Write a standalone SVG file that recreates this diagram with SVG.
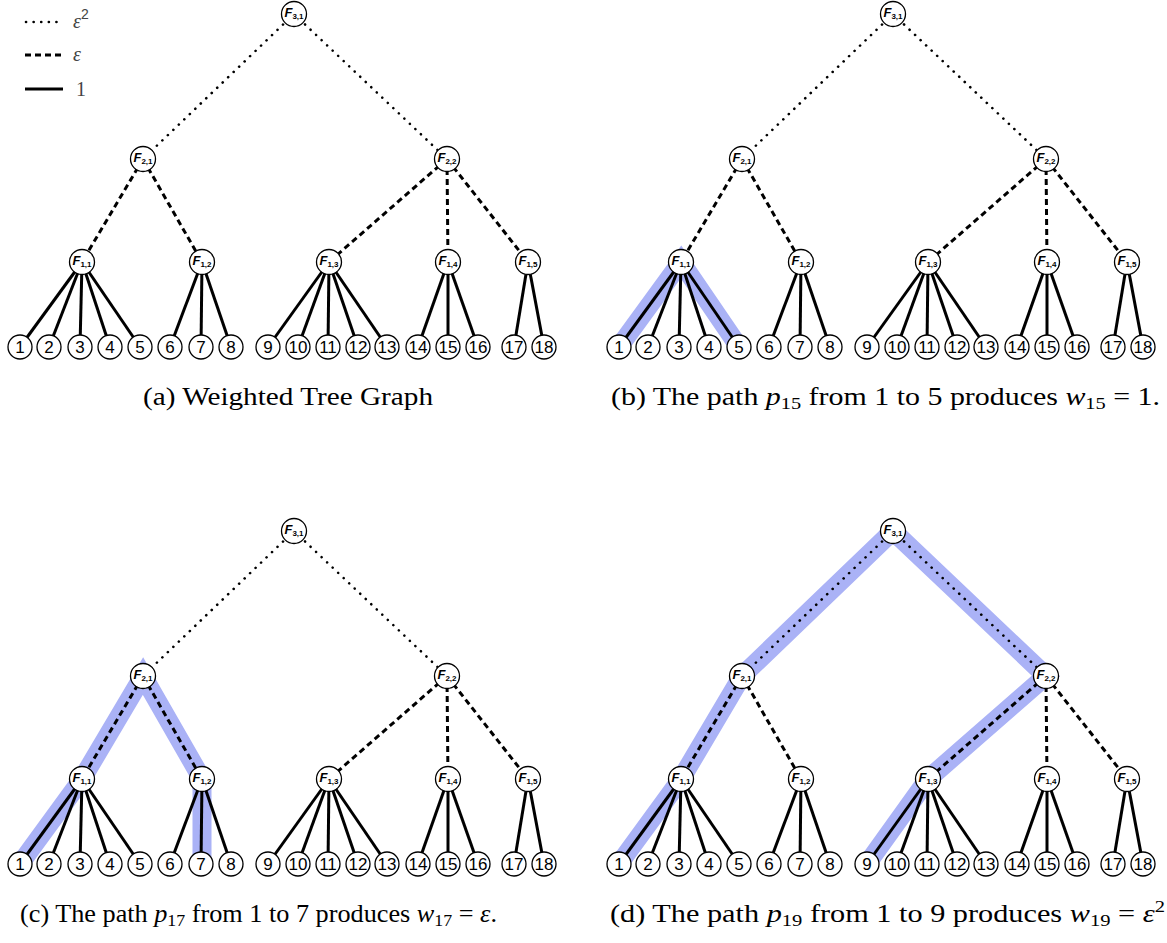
<svg xmlns="http://www.w3.org/2000/svg" width="1167" height="943" viewBox="0 0 1167 943">
<style>
.bg{fill:#fff}
.hl{fill:none;stroke:#aab2f6;stroke-width:19;stroke-linejoin:miter;stroke-linecap:butt}
.dot{stroke:#000;stroke-width:2.6;stroke-dasharray:0.1 7.5;stroke-linecap:round;fill:none}
.dash{stroke:#000;stroke-width:3;stroke-dasharray:6 4;fill:none}
.sol{stroke:#000;stroke-width:3;fill:none}
.node circle{fill:#fff;stroke:#000;stroke-width:1.3}
.fl{font-family:"Liberation Sans",Arial,sans-serif;font-style:italic;font-weight:bold;font-size:13px;text-anchor:middle}
.sub{font-size:8px;font-style:normal;font-weight:bold}
.lt{font-family:"Liberation Sans",Arial,sans-serif;font-size:17px;text-anchor:middle}
.cap{font-family:"Liberation Serif","Times New Roman",serif;font-size:25px}
.it{font-style:italic}
.cs{font-size:17px}
.leg{font-family:"Liberation Serif",serif;font-size:20px;fill:#444}
</style>
<rect class="bg" width="1167" height="943"/>
<g id="legend">
<line class="dot" x1="26" y1="22" x2="62" y2="22"/>
<text class="leg" x="73" y="28"><tspan class="it">ε</tspan><tspan font-size="14" dy="-9" font-family="Liberation Sans">2</tspan></text>
<line class="dash" x1="25" y1="55" x2="63" y2="55"/>
<text class="leg it" x="73" y="61">ε</text>
<line class="sol" x1="25" y1="89" x2="63" y2="89"/>
<text class="leg" x="76" y="96" font-family="Liberation Sans" font-size="19">1</text>
</g>

<!-- PANEL A -->
<g id="panel-a">
<g id="a-connectors">
<line class="dot" x1="294" y1="14" x2="143" y2="159"/>
<line class="dot" x1="294" y1="14" x2="447" y2="159"/>
<line class="dash" x1="143" y1="159" x2="82" y2="262"/>
<line class="dash" x1="143" y1="159" x2="202" y2="262"/>
<line class="dash" x1="447" y1="159" x2="329" y2="262"/>
<line class="dash" x1="447" y1="159" x2="448" y2="262"/>
<line class="dash" x1="447" y1="159" x2="528" y2="262"/>
<line class="sol" x1="82" y1="262" x2="20" y2="347"/>
<line class="sol" x1="82" y1="262" x2="49" y2="347"/>
<line class="sol" x1="82" y1="262" x2="80" y2="347"/>
<line class="sol" x1="82" y1="262" x2="110" y2="347"/>
<line class="sol" x1="82" y1="262" x2="140" y2="347"/>
<line class="sol" x1="202" y1="262" x2="170" y2="347"/>
<line class="sol" x1="202" y1="262" x2="201" y2="347"/>
<line class="sol" x1="202" y1="262" x2="231" y2="347"/>
<line class="sol" x1="329" y1="262" x2="268" y2="347"/>
<line class="sol" x1="329" y1="262" x2="298" y2="347"/>
<line class="sol" x1="329" y1="262" x2="328" y2="347"/>
<line class="sol" x1="329" y1="262" x2="358" y2="347"/>
<line class="sol" x1="329" y1="262" x2="387" y2="347"/>
<line class="sol" x1="448" y1="262" x2="418" y2="347"/>
<line class="sol" x1="448" y1="262" x2="448" y2="347"/>
<line class="sol" x1="448" y1="262" x2="478" y2="347"/>
<line class="sol" x1="528" y1="262" x2="514" y2="347"/>
<line class="sol" x1="528" y1="262" x2="544" y2="347"/>
</g>
<g id="a-F31" class="node"><circle cx="294" cy="14" r="12.5"/><text class="fl" x="294" y="17">F<tspan class="sub" dy="2">3,1</tspan></text></g>
<g id="a-F21" class="node"><circle cx="143" cy="159" r="12.5"/><text class="fl" x="143" y="162">F<tspan class="sub" dy="2">2,1</tspan></text></g>
<g id="a-F22" class="node"><circle cx="447" cy="159" r="12.5"/><text class="fl" x="447" y="162">F<tspan class="sub" dy="2">2,2</tspan></text></g>
<g id="a-F11" class="node"><circle cx="82" cy="262" r="12.5"/><text class="fl" x="82" y="265">F<tspan class="sub" dy="2">1,1</tspan></text></g>
<g id="a-F12" class="node"><circle cx="202" cy="262" r="12.5"/><text class="fl" x="202" y="265">F<tspan class="sub" dy="2">1,2</tspan></text></g>
<g id="a-F13" class="node"><circle cx="329" cy="262" r="12.5"/><text class="fl" x="329" y="265">F<tspan class="sub" dy="2">1,3</tspan></text></g>
<g id="a-F14" class="node"><circle cx="448" cy="262" r="12.5"/><text class="fl" x="448" y="265">F<tspan class="sub" dy="2">1,4</tspan></text></g>
<g id="a-F15" class="node"><circle cx="528" cy="262" r="12.5"/><text class="fl" x="528" y="265">F<tspan class="sub" dy="2">1,5</tspan></text></g>
<g id="a-L1" class="node"><circle cx="20" cy="347" r="12"/><text class="lt" x="20" y="353">1</text></g>
<g id="a-L2" class="node"><circle cx="49" cy="347" r="12"/><text class="lt" x="49" y="353">2</text></g>
<g id="a-L3" class="node"><circle cx="80" cy="347" r="12"/><text class="lt" x="80" y="353">3</text></g>
<g id="a-L4" class="node"><circle cx="110" cy="347" r="12"/><text class="lt" x="110" y="353">4</text></g>
<g id="a-L5" class="node"><circle cx="140" cy="347" r="12"/><text class="lt" x="140" y="353">5</text></g>
<g id="a-L6" class="node"><circle cx="170" cy="347" r="12"/><text class="lt" x="170" y="353">6</text></g>
<g id="a-L7" class="node"><circle cx="201" cy="347" r="12"/><text class="lt" x="201" y="353">7</text></g>
<g id="a-L8" class="node"><circle cx="231" cy="347" r="12"/><text class="lt" x="231" y="353">8</text></g>
<g id="a-L9" class="node"><circle cx="268" cy="347" r="12"/><text class="lt" x="268" y="353">9</text></g>
<g id="a-L10" class="node"><circle cx="298" cy="347" r="12"/><text class="lt" x="298" y="353">10</text></g>
<g id="a-L11" class="node"><circle cx="328" cy="347" r="12"/><text class="lt" x="328" y="353">11</text></g>
<g id="a-L12" class="node"><circle cx="358" cy="347" r="12"/><text class="lt" x="358" y="353">12</text></g>
<g id="a-L13" class="node"><circle cx="387" cy="347" r="12"/><text class="lt" x="387" y="353">13</text></g>
<g id="a-L14" class="node"><circle cx="418" cy="347" r="12"/><text class="lt" x="418" y="353">14</text></g>
<g id="a-L15" class="node"><circle cx="448" cy="347" r="12"/><text class="lt" x="448" y="353">15</text></g>
<g id="a-L16" class="node"><circle cx="478" cy="347" r="12"/><text class="lt" x="478" y="353">16</text></g>
<g id="a-L17" class="node"><circle cx="514" cy="347" r="12"/><text class="lt" x="514" y="353">17</text></g>
<g id="a-L18" class="node"><circle cx="544" cy="347" r="12"/><text class="lt" x="544" y="353">18</text></g>
<text id="a-caption" class="cap" x="143" y="405" textLength="290" lengthAdjust="spacingAndGlyphs">(a) Weighted Tree Graph</text>
</g>

<!-- PANEL B -->
<g id="panel-b" transform="translate(599,0)">
<g id="b-highlight"><polyline class="hl" points="20,347 82,262 140,347"/></g>
<g id="b-connectors">
<line class="dot" x1="294" y1="14" x2="143" y2="159"/>
<line class="dot" x1="294" y1="14" x2="447" y2="159"/>
<line class="dash" x1="143" y1="159" x2="82" y2="262"/>
<line class="dash" x1="143" y1="159" x2="202" y2="262"/>
<line class="dash" x1="447" y1="159" x2="329" y2="262"/>
<line class="dash" x1="447" y1="159" x2="448" y2="262"/>
<line class="dash" x1="447" y1="159" x2="528" y2="262"/>
<line class="sol" x1="82" y1="262" x2="20" y2="347"/>
<line class="sol" x1="82" y1="262" x2="49" y2="347"/>
<line class="sol" x1="82" y1="262" x2="80" y2="347"/>
<line class="sol" x1="82" y1="262" x2="110" y2="347"/>
<line class="sol" x1="82" y1="262" x2="140" y2="347"/>
<line class="sol" x1="202" y1="262" x2="170" y2="347"/>
<line class="sol" x1="202" y1="262" x2="201" y2="347"/>
<line class="sol" x1="202" y1="262" x2="231" y2="347"/>
<line class="sol" x1="329" y1="262" x2="268" y2="347"/>
<line class="sol" x1="329" y1="262" x2="298" y2="347"/>
<line class="sol" x1="329" y1="262" x2="328" y2="347"/>
<line class="sol" x1="329" y1="262" x2="358" y2="347"/>
<line class="sol" x1="329" y1="262" x2="387" y2="347"/>
<line class="sol" x1="448" y1="262" x2="418" y2="347"/>
<line class="sol" x1="448" y1="262" x2="448" y2="347"/>
<line class="sol" x1="448" y1="262" x2="478" y2="347"/>
<line class="sol" x1="528" y1="262" x2="514" y2="347"/>
<line class="sol" x1="528" y1="262" x2="544" y2="347"/>
</g>
<g id="b-F31" class="node"><circle cx="294" cy="14" r="12.5"/><text class="fl" x="294" y="17">F<tspan class="sub" dy="2">3,1</tspan></text></g>
<g id="b-F21" class="node"><circle cx="143" cy="159" r="12.5"/><text class="fl" x="143" y="162">F<tspan class="sub" dy="2">2,1</tspan></text></g>
<g id="b-F22" class="node"><circle cx="447" cy="159" r="12.5"/><text class="fl" x="447" y="162">F<tspan class="sub" dy="2">2,2</tspan></text></g>
<g id="b-F11" class="node"><circle cx="82" cy="262" r="12.5"/><text class="fl" x="82" y="265">F<tspan class="sub" dy="2">1,1</tspan></text></g>
<g id="b-F12" class="node"><circle cx="202" cy="262" r="12.5"/><text class="fl" x="202" y="265">F<tspan class="sub" dy="2">1,2</tspan></text></g>
<g id="b-F13" class="node"><circle cx="329" cy="262" r="12.5"/><text class="fl" x="329" y="265">F<tspan class="sub" dy="2">1,3</tspan></text></g>
<g id="b-F14" class="node"><circle cx="448" cy="262" r="12.5"/><text class="fl" x="448" y="265">F<tspan class="sub" dy="2">1,4</tspan></text></g>
<g id="b-F15" class="node"><circle cx="528" cy="262" r="12.5"/><text class="fl" x="528" y="265">F<tspan class="sub" dy="2">1,5</tspan></text></g>
<g id="b-L1" class="node"><circle cx="20" cy="347" r="12"/><text class="lt" x="20" y="353">1</text></g>
<g id="b-L2" class="node"><circle cx="49" cy="347" r="12"/><text class="lt" x="49" y="353">2</text></g>
<g id="b-L3" class="node"><circle cx="80" cy="347" r="12"/><text class="lt" x="80" y="353">3</text></g>
<g id="b-L4" class="node"><circle cx="110" cy="347" r="12"/><text class="lt" x="110" y="353">4</text></g>
<g id="b-L5" class="node"><circle cx="140" cy="347" r="12"/><text class="lt" x="140" y="353">5</text></g>
<g id="b-L6" class="node"><circle cx="170" cy="347" r="12"/><text class="lt" x="170" y="353">6</text></g>
<g id="b-L7" class="node"><circle cx="201" cy="347" r="12"/><text class="lt" x="201" y="353">7</text></g>
<g id="b-L8" class="node"><circle cx="231" cy="347" r="12"/><text class="lt" x="231" y="353">8</text></g>
<g id="b-L9" class="node"><circle cx="268" cy="347" r="12"/><text class="lt" x="268" y="353">9</text></g>
<g id="b-L10" class="node"><circle cx="298" cy="347" r="12"/><text class="lt" x="298" y="353">10</text></g>
<g id="b-L11" class="node"><circle cx="328" cy="347" r="12"/><text class="lt" x="328" y="353">11</text></g>
<g id="b-L12" class="node"><circle cx="358" cy="347" r="12"/><text class="lt" x="358" y="353">12</text></g>
<g id="b-L13" class="node"><circle cx="387" cy="347" r="12"/><text class="lt" x="387" y="353">13</text></g>
<g id="b-L14" class="node"><circle cx="418" cy="347" r="12"/><text class="lt" x="418" y="353">14</text></g>
<g id="b-L15" class="node"><circle cx="448" cy="347" r="12"/><text class="lt" x="448" y="353">15</text></g>
<g id="b-L16" class="node"><circle cx="478" cy="347" r="12"/><text class="lt" x="478" y="353">16</text></g>
<g id="b-L17" class="node"><circle cx="514" cy="347" r="12"/><text class="lt" x="514" y="353">17</text></g>
<g id="b-L18" class="node"><circle cx="544" cy="347" r="12"/><text class="lt" x="544" y="353">18</text></g>
<text id="b-caption" class="cap" x="12" y="405" textLength="549" lengthAdjust="spacingAndGlyphs">(b) The path <tspan class="it">p</tspan><tspan class="cs" dy="4">15</tspan><tspan dy="-4"> from 1 to 5 produces </tspan><tspan class="it">w</tspan><tspan class="cs" dy="4">15</tspan><tspan dy="-4"> = 1.</tspan></text>
</g>

<!-- PANEL C -->
<g id="panel-c" transform="translate(0,517)">
<g id="c-highlight"><polyline class="hl" points="20,347 82,262 143,159 202,262 202,347"/></g>
<g id="c-connectors">
<line class="dot" x1="294" y1="14" x2="143" y2="159"/>
<line class="dot" x1="294" y1="14" x2="447" y2="159"/>
<line class="dash" x1="143" y1="159" x2="82" y2="262"/>
<line class="dash" x1="143" y1="159" x2="202" y2="262"/>
<line class="dash" x1="447" y1="159" x2="329" y2="262"/>
<line class="dash" x1="447" y1="159" x2="448" y2="262"/>
<line class="dash" x1="447" y1="159" x2="528" y2="262"/>
<line class="sol" x1="82" y1="262" x2="20" y2="347"/>
<line class="sol" x1="82" y1="262" x2="49" y2="347"/>
<line class="sol" x1="82" y1="262" x2="80" y2="347"/>
<line class="sol" x1="82" y1="262" x2="110" y2="347"/>
<line class="sol" x1="82" y1="262" x2="140" y2="347"/>
<line class="sol" x1="202" y1="262" x2="170" y2="347"/>
<line class="sol" x1="202" y1="262" x2="201" y2="347"/>
<line class="sol" x1="202" y1="262" x2="231" y2="347"/>
<line class="sol" x1="329" y1="262" x2="268" y2="347"/>
<line class="sol" x1="329" y1="262" x2="298" y2="347"/>
<line class="sol" x1="329" y1="262" x2="328" y2="347"/>
<line class="sol" x1="329" y1="262" x2="358" y2="347"/>
<line class="sol" x1="329" y1="262" x2="387" y2="347"/>
<line class="sol" x1="448" y1="262" x2="418" y2="347"/>
<line class="sol" x1="448" y1="262" x2="448" y2="347"/>
<line class="sol" x1="448" y1="262" x2="478" y2="347"/>
<line class="sol" x1="528" y1="262" x2="514" y2="347"/>
<line class="sol" x1="528" y1="262" x2="544" y2="347"/>
</g>
<g id="c-F31" class="node"><circle cx="294" cy="14" r="12.5"/><text class="fl" x="294" y="17">F<tspan class="sub" dy="2">3,1</tspan></text></g>
<g id="c-F21" class="node"><circle cx="143" cy="159" r="12.5"/><text class="fl" x="143" y="162">F<tspan class="sub" dy="2">2,1</tspan></text></g>
<g id="c-F22" class="node"><circle cx="447" cy="159" r="12.5"/><text class="fl" x="447" y="162">F<tspan class="sub" dy="2">2,2</tspan></text></g>
<g id="c-F11" class="node"><circle cx="82" cy="262" r="12.5"/><text class="fl" x="82" y="265">F<tspan class="sub" dy="2">1,1</tspan></text></g>
<g id="c-F12" class="node"><circle cx="202" cy="262" r="12.5"/><text class="fl" x="202" y="265">F<tspan class="sub" dy="2">1,2</tspan></text></g>
<g id="c-F13" class="node"><circle cx="329" cy="262" r="12.5"/><text class="fl" x="329" y="265">F<tspan class="sub" dy="2">1,3</tspan></text></g>
<g id="c-F14" class="node"><circle cx="448" cy="262" r="12.5"/><text class="fl" x="448" y="265">F<tspan class="sub" dy="2">1,4</tspan></text></g>
<g id="c-F15" class="node"><circle cx="528" cy="262" r="12.5"/><text class="fl" x="528" y="265">F<tspan class="sub" dy="2">1,5</tspan></text></g>
<g id="c-L1" class="node"><circle cx="20" cy="347" r="12"/><text class="lt" x="20" y="353">1</text></g>
<g id="c-L2" class="node"><circle cx="49" cy="347" r="12"/><text class="lt" x="49" y="353">2</text></g>
<g id="c-L3" class="node"><circle cx="80" cy="347" r="12"/><text class="lt" x="80" y="353">3</text></g>
<g id="c-L4" class="node"><circle cx="110" cy="347" r="12"/><text class="lt" x="110" y="353">4</text></g>
<g id="c-L5" class="node"><circle cx="140" cy="347" r="12"/><text class="lt" x="140" y="353">5</text></g>
<g id="c-L6" class="node"><circle cx="170" cy="347" r="12"/><text class="lt" x="170" y="353">6</text></g>
<g id="c-L7" class="node"><circle cx="201" cy="347" r="12"/><text class="lt" x="201" y="353">7</text></g>
<g id="c-L8" class="node"><circle cx="231" cy="347" r="12"/><text class="lt" x="231" y="353">8</text></g>
<g id="c-L9" class="node"><circle cx="268" cy="347" r="12"/><text class="lt" x="268" y="353">9</text></g>
<g id="c-L10" class="node"><circle cx="298" cy="347" r="12"/><text class="lt" x="298" y="353">10</text></g>
<g id="c-L11" class="node"><circle cx="328" cy="347" r="12"/><text class="lt" x="328" y="353">11</text></g>
<g id="c-L12" class="node"><circle cx="358" cy="347" r="12"/><text class="lt" x="358" y="353">12</text></g>
<g id="c-L13" class="node"><circle cx="387" cy="347" r="12"/><text class="lt" x="387" y="353">13</text></g>
<g id="c-L14" class="node"><circle cx="418" cy="347" r="12"/><text class="lt" x="418" y="353">14</text></g>
<g id="c-L15" class="node"><circle cx="448" cy="347" r="12"/><text class="lt" x="448" y="353">15</text></g>
<g id="c-L16" class="node"><circle cx="478" cy="347" r="12"/><text class="lt" x="478" y="353">16</text></g>
<g id="c-L17" class="node"><circle cx="514" cy="347" r="12"/><text class="lt" x="514" y="353">17</text></g>
<g id="c-L18" class="node"><circle cx="544" cy="347" r="12"/><text class="lt" x="544" y="353">18</text></g>
<text id="c-caption" class="cap" x="20" y="405" textLength="477" lengthAdjust="spacingAndGlyphs">(c) The path <tspan class="it">p</tspan><tspan class="cs" dy="4">17</tspan><tspan dy="-4"> from 1 to 7 produces </tspan><tspan class="it">w</tspan><tspan class="cs" dy="4">17</tspan><tspan dy="-4"> = </tspan><tspan class="it">ε</tspan>.</text>
</g>

<!-- PANEL D -->
<g id="panel-d" transform="translate(599,517)">
<g id="d-highlight"><polyline class="hl" points="20,347 82,262 143,159 294,14 447,159 329,262 268,347"/></g>
<g id="d-connectors">
<line class="dot" x1="294" y1="14" x2="143" y2="159"/>
<line class="dot" x1="294" y1="14" x2="447" y2="159"/>
<line class="dash" x1="143" y1="159" x2="82" y2="262"/>
<line class="dash" x1="143" y1="159" x2="202" y2="262"/>
<line class="dash" x1="447" y1="159" x2="329" y2="262"/>
<line class="dash" x1="447" y1="159" x2="448" y2="262"/>
<line class="dash" x1="447" y1="159" x2="528" y2="262"/>
<line class="sol" x1="82" y1="262" x2="20" y2="347"/>
<line class="sol" x1="82" y1="262" x2="49" y2="347"/>
<line class="sol" x1="82" y1="262" x2="80" y2="347"/>
<line class="sol" x1="82" y1="262" x2="110" y2="347"/>
<line class="sol" x1="82" y1="262" x2="140" y2="347"/>
<line class="sol" x1="202" y1="262" x2="170" y2="347"/>
<line class="sol" x1="202" y1="262" x2="201" y2="347"/>
<line class="sol" x1="202" y1="262" x2="231" y2="347"/>
<line class="sol" x1="329" y1="262" x2="268" y2="347"/>
<line class="sol" x1="329" y1="262" x2="298" y2="347"/>
<line class="sol" x1="329" y1="262" x2="328" y2="347"/>
<line class="sol" x1="329" y1="262" x2="358" y2="347"/>
<line class="sol" x1="329" y1="262" x2="387" y2="347"/>
<line class="sol" x1="448" y1="262" x2="418" y2="347"/>
<line class="sol" x1="448" y1="262" x2="448" y2="347"/>
<line class="sol" x1="448" y1="262" x2="478" y2="347"/>
<line class="sol" x1="528" y1="262" x2="514" y2="347"/>
<line class="sol" x1="528" y1="262" x2="544" y2="347"/>
</g>
<g id="d-F31" class="node"><circle cx="294" cy="14" r="12.5"/><text class="fl" x="294" y="17">F<tspan class="sub" dy="2">3,1</tspan></text></g>
<g id="d-F21" class="node"><circle cx="143" cy="159" r="12.5"/><text class="fl" x="143" y="162">F<tspan class="sub" dy="2">2,1</tspan></text></g>
<g id="d-F22" class="node"><circle cx="447" cy="159" r="12.5"/><text class="fl" x="447" y="162">F<tspan class="sub" dy="2">2,2</tspan></text></g>
<g id="d-F11" class="node"><circle cx="82" cy="262" r="12.5"/><text class="fl" x="82" y="265">F<tspan class="sub" dy="2">1,1</tspan></text></g>
<g id="d-F12" class="node"><circle cx="202" cy="262" r="12.5"/><text class="fl" x="202" y="265">F<tspan class="sub" dy="2">1,2</tspan></text></g>
<g id="d-F13" class="node"><circle cx="329" cy="262" r="12.5"/><text class="fl" x="329" y="265">F<tspan class="sub" dy="2">1,3</tspan></text></g>
<g id="d-F14" class="node"><circle cx="448" cy="262" r="12.5"/><text class="fl" x="448" y="265">F<tspan class="sub" dy="2">1,4</tspan></text></g>
<g id="d-F15" class="node"><circle cx="528" cy="262" r="12.5"/><text class="fl" x="528" y="265">F<tspan class="sub" dy="2">1,5</tspan></text></g>
<g id="d-L1" class="node"><circle cx="20" cy="347" r="12"/><text class="lt" x="20" y="353">1</text></g>
<g id="d-L2" class="node"><circle cx="49" cy="347" r="12"/><text class="lt" x="49" y="353">2</text></g>
<g id="d-L3" class="node"><circle cx="80" cy="347" r="12"/><text class="lt" x="80" y="353">3</text></g>
<g id="d-L4" class="node"><circle cx="110" cy="347" r="12"/><text class="lt" x="110" y="353">4</text></g>
<g id="d-L5" class="node"><circle cx="140" cy="347" r="12"/><text class="lt" x="140" y="353">5</text></g>
<g id="d-L6" class="node"><circle cx="170" cy="347" r="12"/><text class="lt" x="170" y="353">6</text></g>
<g id="d-L7" class="node"><circle cx="201" cy="347" r="12"/><text class="lt" x="201" y="353">7</text></g>
<g id="d-L8" class="node"><circle cx="231" cy="347" r="12"/><text class="lt" x="231" y="353">8</text></g>
<g id="d-L9" class="node"><circle cx="268" cy="347" r="12"/><text class="lt" x="268" y="353">9</text></g>
<g id="d-L10" class="node"><circle cx="298" cy="347" r="12"/><text class="lt" x="298" y="353">10</text></g>
<g id="d-L11" class="node"><circle cx="328" cy="347" r="12"/><text class="lt" x="328" y="353">11</text></g>
<g id="d-L12" class="node"><circle cx="358" cy="347" r="12"/><text class="lt" x="358" y="353">12</text></g>
<g id="d-L13" class="node"><circle cx="387" cy="347" r="12"/><text class="lt" x="387" y="353">13</text></g>
<g id="d-L14" class="node"><circle cx="418" cy="347" r="12"/><text class="lt" x="418" y="353">14</text></g>
<g id="d-L15" class="node"><circle cx="448" cy="347" r="12"/><text class="lt" x="448" y="353">15</text></g>
<g id="d-L16" class="node"><circle cx="478" cy="347" r="12"/><text class="lt" x="478" y="353">16</text></g>
<g id="d-L17" class="node"><circle cx="514" cy="347" r="12"/><text class="lt" x="514" y="353">17</text></g>
<g id="d-L18" class="node"><circle cx="544" cy="347" r="12"/><text class="lt" x="544" y="353">18</text></g>
<text id="d-caption" class="cap" x="11" y="405" textLength="555" lengthAdjust="spacingAndGlyphs">(d) The path <tspan class="it">p</tspan><tspan class="cs" dy="4">19</tspan><tspan dy="-4"> from 1 to 9 produces </tspan><tspan class="it">w</tspan><tspan class="cs" dy="4">19</tspan><tspan dy="-4"> = </tspan><tspan class="it">ε</tspan><tspan class="cs" dy="-10">2</tspan></text>
</g>
</svg>
